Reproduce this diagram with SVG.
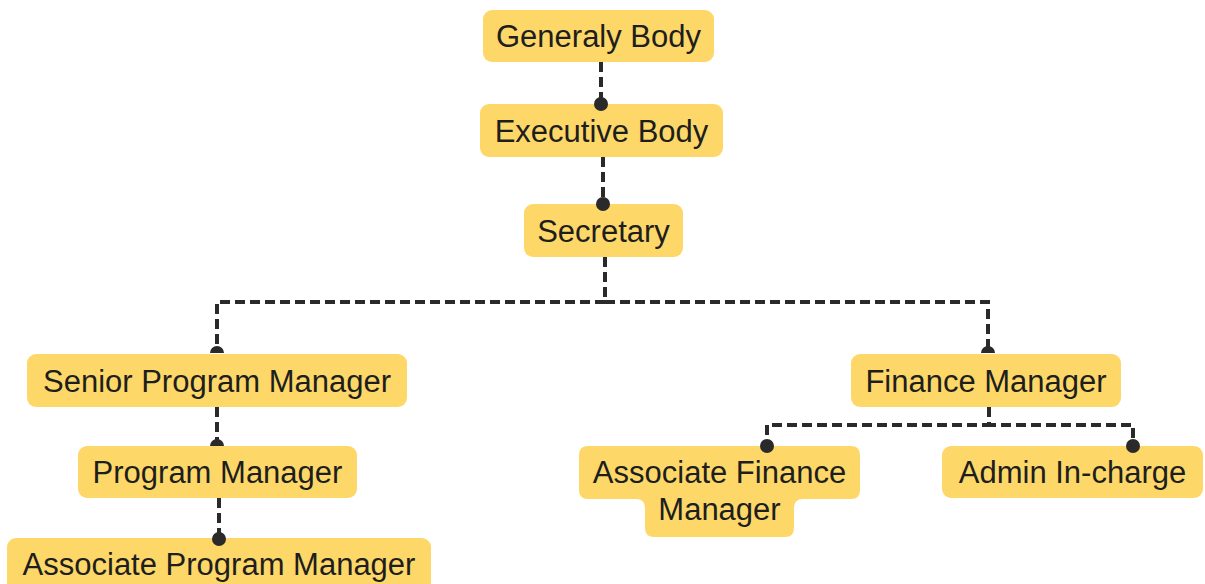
<svg xmlns="http://www.w3.org/2000/svg" width="1205" height="584" viewBox="0 0 1205 584">
<style>
.n{fill:#fdd868}
.t{font-family:"Liberation Sans",Arial,sans-serif;font-size:31px;fill:#1e1e1e;text-anchor:middle}
.c{fill:none;stroke:#2a2a2a;stroke-width:4;stroke-dasharray:10 5}
.d{fill:#2a2a2a}
</style>
<rect width="1205" height="584" fill="#ffffff"/>
<g id="nodes">
<g id="generaly-body"><rect class="n" x="483" y="10" width="231" height="52" rx="9"/><text class="t" x="598.5" y="47">Generaly Body</text></g>
<g id="executive-body"><rect class="n" x="480" y="104" width="243" height="53" rx="9"/><text class="t" x="601.5" y="141.5">Executive Body</text></g>
<g id="secretary"><rect class="n" x="524" y="204" width="159" height="53" rx="9"/><text class="t" x="603.5" y="241.5">Secretary</text></g>
<g id="senior-program-manager"><rect class="n" x="27" y="354" width="380" height="53" rx="9"/><text class="t" x="217" y="391.5">Senior Program Manager</text></g>
<g id="program-manager"><rect class="n" x="78" y="446" width="279" height="52" rx="9"/><text class="t" x="217.5" y="483">Program Manager</text></g>
<g id="associate-program-manager"><rect class="n" x="7" y="538" width="424" height="60" rx="9"/><text class="t" x="219" y="575">Associate Program Manager</text></g>
<g id="finance-manager"><rect class="n" x="851" y="354" width="270" height="53" rx="9"/><text class="t" x="986" y="391.5">Finance Manager</text></g>
<g id="associate-finance-manager"><path class="n" d="M 588 446 H 851 Q 860 446 860 455 V 490 Q 860 499 851 499 H 803 Q 794 499 794 508 V 528 Q 794 537 785 537 H 654 Q 645 537 645 528 V 508 Q 645 499 636 499 H 588 Q 579 499 579 490 V 455 Q 579 446 588 446 Z"/><text class="t" x="719.5" y="483">Associate Finance</text><text class="t" x="719.5" y="520">Manager</text></g>
<g id="admin-in-charge"><rect class="n" x="942" y="446" width="261" height="52" rx="9"/><text class="t" x="1072.5" y="483">Admin In-charge</text></g>
</g>
<g id="connectors">
<path class="c" d="M 601 62 V 104"/><circle class="d" cx="601" cy="104" r="7"/>
<path class="c" d="M 603 157 V 204"/><circle class="d" cx="603" cy="204" r="7"/>
<path class="c" d="M 605 257 V 302 H 217 V 353"/><path class="d" d="M 210 353 A 7 7 0 0 1 224 353 Z"/>
<path class="c" d="M 605 257 V 302 H 988 V 353"/><path class="d" d="M 981 353 A 7 7 0 0 1 995 353 Z"/>
<path class="c" d="M 217 407 V 445"/><path class="d" d="M 210 446 A 7 7 0 0 1 224 446 Z"/>
<path class="c" d="M 219 498 V 539"/><circle class="d" cx="219" cy="539" r="7"/>
<path class="c" d="M 989 407 V 425 H 767 V 446"/><circle class="d" cx="767" cy="446" r="7"/>
<path class="c" d="M 989 407 V 425 H 1133 V 446"/><circle class="d" cx="1133" cy="446" r="7"/>
</g>
</svg>
